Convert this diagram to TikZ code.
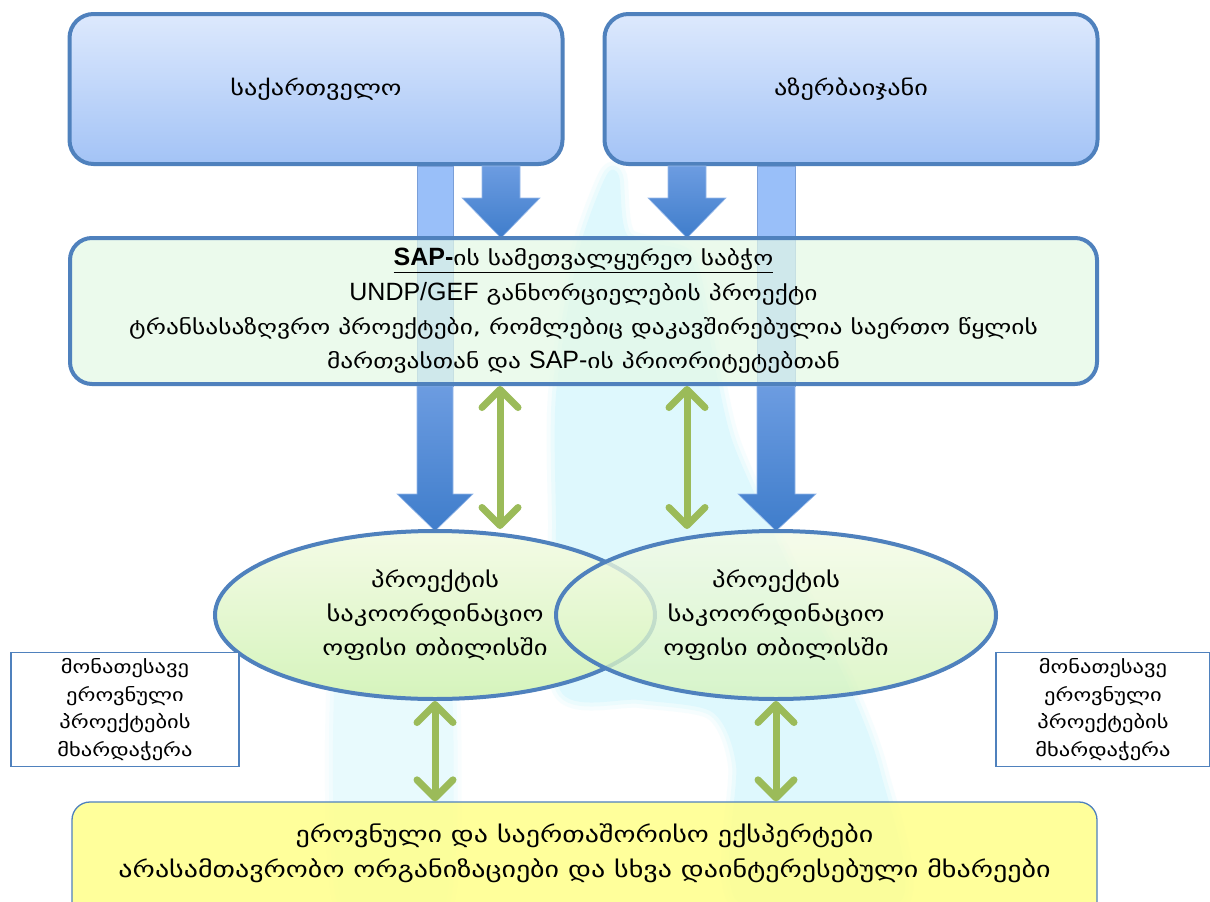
\documentclass[tikz,border=0pt]{standalone}
\usepackage{fontspec}
\setmainfont{DejaVu Sans}[FakeStretch=1.25]
\newfontfamily\latin{Liberation Sans}
\newcommand\lat[1]{{\latin\fontsize{25}{34.3}\selectfont #1}}
\usetikzlibrary{arrows.meta,shapes.geometric}

\definecolor{frameblue}{HTML}{4F81BD}
\definecolor{boxtop}{HTML}{DDE9FD}
\definecolor{boxbot}{HTML}{A3C3F6}
\definecolor{barlight}{HTML}{99BFF9}
\definecolor{barline}{HTML}{7A9FD8}
\definecolor{arrtop}{HTML}{6C9CE1}
\definecolor{arrbot}{HTML}{3F7DCB}
\definecolor{boardfill}{HTML}{E4F9E6}
\definecolor{ovaltop}{HTML}{F4FBE6}
\definecolor{ovalbot}{HTML}{D5F4BC}
\definecolor{linkgreen}{HTML}{9BBB59}
\definecolor{expertfill}{HTML}{FFFF8A}
\definecolor{river}{HTML}{C4F3FC}

\tikzset{
  country/.style={draw=frameblue, line width=4pt, rounded corners=24pt,
    top color=boxtop, bottom color=boxbot, minimum width=493pt,
    minimum height=150pt, font=\fontsize{21}{26}\selectfont},
  board/.style={draw=frameblue, line width=4pt, rounded corners=22pt,
    fill=boardfill, fill opacity=0.72, text opacity=1, minimum width=1027pt,
    minimum height=146pt, align=center,
    font=\fontsize{20.3}{34.3}\selectfont},
  office/.style={ellipse, draw=frameblue, line width=4pt, inner sep=0pt,
    top color=ovaltop, bottom color=ovalbot, minimum width=440pt,
    minimum height=168pt, align=center,
    font=\fontsize{21.3}{34}\selectfont},
  sidebox/.style={draw=frameblue, line width=1.3pt, fill=white,
    minimum width=228pt, minimum height=114pt, align=center,
    font=\fontsize{18}{27.7}\selectfont},
  experts/.style={draw=frameblue, line width=1.3pt, rounded corners=18pt,
    fill=expertfill, fill opacity=0.85, minimum width=1025pt,
    minimum height=130pt},
  experttext/.style={align=center, font=\fontsize{22.4}{35}\selectfont},
  feedbar/.style={fill=barlight, draw=barline, line width=0.8pt},
  blockarrow/.style={top color=arrtop, bottom color=arrbot, draw=arrtop!70!white,
    line width=0.6pt},
  link/.style={draw=linkgreen, line width=7pt,
    {Straight Barb[length=18pt,width=36pt,round]}-{Straight Barb[length=18pt,width=36pt,round]}},
  softwater/.style={line join=round},
}

\begin{document}
\begin{tikzpicture}[x=1pt,y=-1pt]
\useasboundingbox (0,0) rectangle (1210,902);
\fill[white] (0,0) rectangle (1210,902);

% pale watercourse behind the scheme, with soft edges
\def\watermain{plot[smooth cycle, tension=0.45] coordinates {
  (606,176) (619,176) (628,236) (688,254) (708,330) (732,440) (786,560)
  (846,680) (880,770) (900,902) (738,902) (736,765) (712,712) (640,700)
  (560,690) (556,520) (556,394) (578,254)}}
\def\waterleft{plot[smooth cycle, tension=0.45] coordinates {
  (344,580) (442,580) (446,902) (341,902)}}
\begin{scope}[transparency group, opacity=0.55]
  \draw[softwater, river!25!white, line width=16pt] \watermain;
  \draw[softwater, river!60!white, line width=8pt] \watermain;
  \fill[river] \watermain;
\end{scope}
\begin{scope}[transparency group, opacity=0.38]
  \draw[softwater, river!25!white, line width=16pt] \waterleft;
  \draw[softwater, river!60!white, line width=8pt] \waterleft;
  \fill[river] \waterleft;
\end{scope}

% countries
\node[country] (geo) at (316,89) {საქართველო};
\node[country] (aze) at (851,89) {აზერბაიჯანი};

% long feeds from the countries down to the offices (behind the board)
\coordinate (boardTop) at (0,238);
\coordinate (boardBot) at (0,386);
\coordinate (officeTop) at (0,531);
\fill[feedbar] (417,0 |- geo.south) rectangle (453,0 |- boardBot);
\fill[feedbar] (757,0 |- aze.south) rectangle (795,0 |- boardBot);
\shade[blockarrow] (417,0 |- boardBot) -- (453,0 |- boardBot) -- (453,494)
  -- (473,494) -- (435,0 |- officeTop) -- (397,494) -- (417,494) -- cycle;
\shade[blockarrow] (757,0 |- boardBot) -- (795,0 |- boardBot) -- (795,494)
  -- (816,494) -- (776,0 |- officeTop) -- (738,494) -- (757,494) -- cycle;

% short arrows from the countries into the board
\shade[blockarrow] (482,0 |- geo.south) -- (520,0 |- geo.south) -- (520,198)
  -- (540,198) -- (501,0 |- boardTop) -- (462,198) -- (482,198) -- cycle;
\shade[blockarrow] (668,0 |- aze.south) -- (706,0 |- aze.south) -- (706,198)
  -- (726,198) -- (687,0 |- boardTop) -- (648,198) -- (668,198) -- cycle;

% steering board
\node[board] (board) at (583.5,311) {%
  \underline{\lat{\bfseries SAP-}ის სამეთვალყურეო საბჭო}\\
  \lat{UNDP/GEF} განხორციელების პროექტი\\
  ტრანსასაზღვრო პროექტები, რომლებიც დაკავშირებულია საერთო წყლის\\
  მართვასთან და \lat{SAP-}ის პრიორიტეტებთან};

% coordination offices
\node[office] (lo) at (435,615) {პროექტის\\საკოორდინაციო\\ოფისი თბილისში};
\node[office, fill opacity=0.78, text opacity=1] (ro) at (776,615)
  {პროექტის\\საკოორდინაციო\\ოფისი თბილისში};

% related national projects
\node[sidebox] (lside) at (125,709.5) {მონათესავე\\ეროვნული\\პროექტების\\მხარდაჭერა};
\node[sidebox, minimum width=214pt] (rside) at (1103,709.5) {მონათესავე\\ეროვნული\\პროექტების\\მხარდაჭერა};

% experts and stakeholders
\node[experts] (exp) at (584.5,867) {};
\node[experttext] (exptext) at (584.5,853) {ეროვნული და საერთაშორისო ექსპერტები\\
  არასამთავრობო ორგანიზაციები და სხვა დაინტერესებული მხარეები};

% two-way links
\draw[link] (500,0 |- board.south) -- (500,0 |- lo.north);
\draw[link] (687,0 |- board.south) -- (687,0 |- ro.north);
\draw[link] (435,0 |- lo.south) -- (435,0 |- exp.north);
\draw[link] (776,0 |- ro.south) -- (776,0 |- exp.north);
\end{tikzpicture}
\end{document}
